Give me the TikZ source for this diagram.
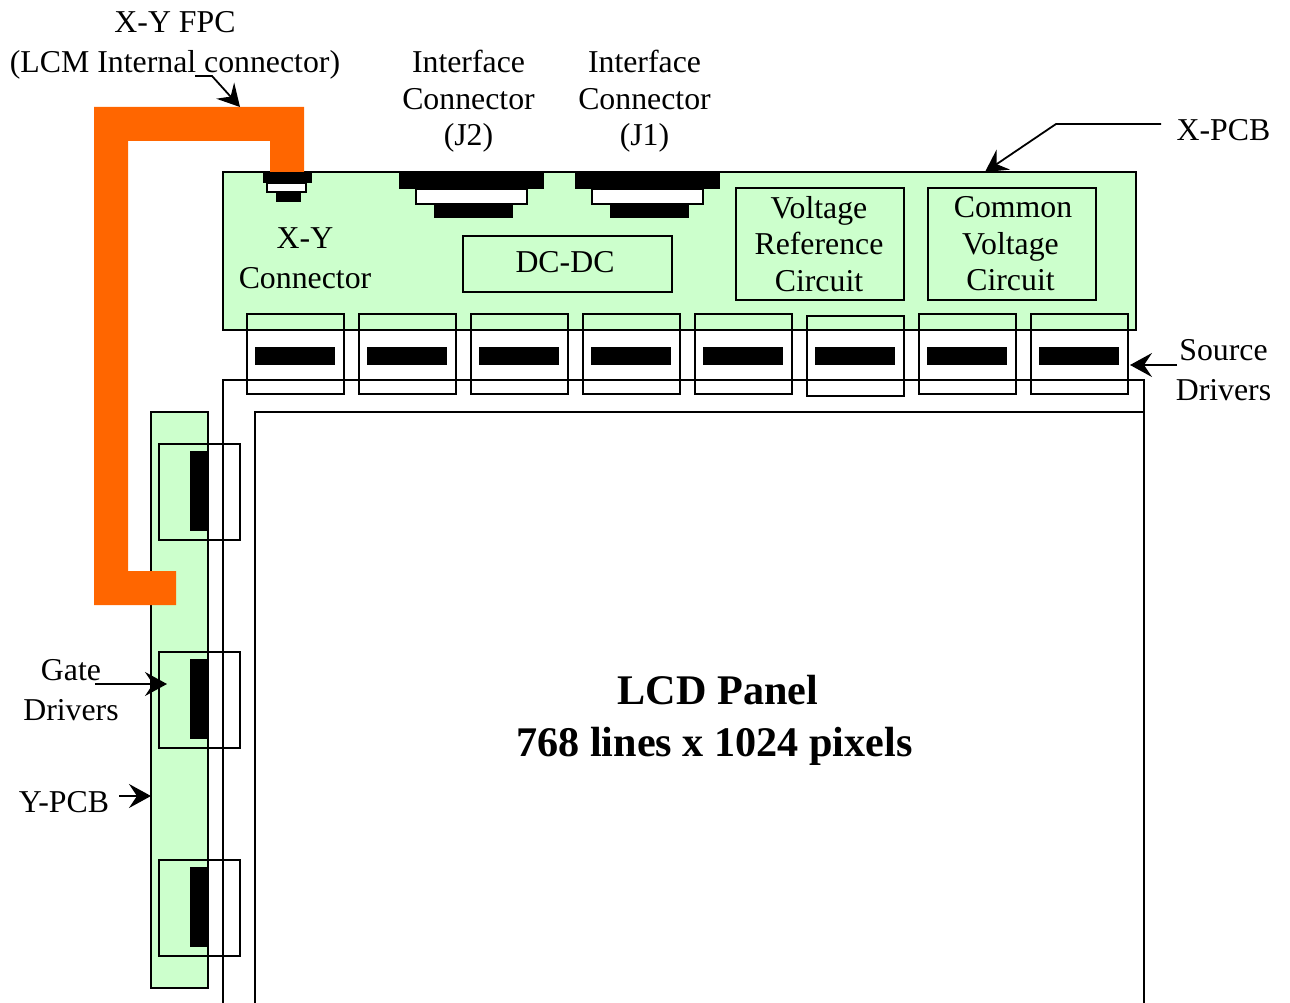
\documentclass[tikz,border=0pt]{standalone}
\usepackage{fontspec}
\setmainfont{Liberation Serif}
\usetikzlibrary{arrows.meta,fit}
\definecolor{pcbgreen}{HTML}{CCFFCC}
\definecolor{fpcorange}{HTML}{FF6600}
\tikzset{
  shp/.style={inner sep=0pt,outer sep=0pt,line width=1.8pt},
  pcb/.style={shp,draw=black,fill=pcbgreen},
  outline/.style={shp,draw=black},
  solid black/.style={inner sep=0pt,outer sep=0pt,fill=black},
  whitebar/.style={shp,draw=black,fill=white},
  lbl/.style={inner sep=0pt,outer sep=0pt,align=center,font=\fontsize{31.8}{36.5}\selectfont},
  lblwide/.style={inner sep=0pt,outer sep=0pt,align=center,font=\fontsize{31.8}{40}\selectfont},
  lblbold/.style={inner sep=0pt,outer sep=0pt,align=center,font=\fontsize{42.2}{52}\selectfont\bfseries},
  leader/.style={line width=1.8pt,line join=miter,-{Stealth[length=22pt,width=24pt,inset=8pt]}},
  fpc/.style={fill=fpcorange}
}
\newcommand{\rct}[6]{\coordinate (#1a) at (#3,#4);\coordinate (#1b) at (#5,#6);
  \node[fit=(#1a)(#1b),#2] (#1) {};}
\begin{document}
\begin{tikzpicture}[x=1pt,y=-1pt]
\useasboundingbox (0,0) rectangle (1290,1003);
% X-PCB
\rct{xpcb}{pcb}{223}{172}{1136}{330}
% LCD panel
\coordinate (lo1) at (223,1003);\coordinate (lo2) at (223,380);\coordinate (lo3) at (1144,380);\coordinate (lo4) at (1144,1003);
\draw[line width=1.8pt] (lo1) -- (lo2) -- (lo3) -- (lo4);
\coordinate (li1) at (255,1003);\coordinate (li2) at (255,412);\coordinate (li3) at (1144,412);
\draw[line width=1.8pt] (li1) -- (li2) -- (li3);
% Y-PCB
\rct{ypcb}{pcb}{151}{412}{208}{988}
% FPC
\fill[fpc] (94,107) -- (304,107) -- (304,173) -- (270,173) -- (270,141) -- (128,141) -- (128,571) -- (176,571) -- (176,605) -- (94,605) -- cycle;
% X-Y connector
\rct{xyc}{solid black}{263}{172}{312}{183}
\rct{xyb}{whitebar}{267}{183}{306}{192}
\rct{xyd}{solid black}{276}{192}{301}{202}
% J2
\rct{jta}{solid black}{399}{172}{544}{189}
\rct{jtb}{whitebar}{416}{189}{527}{204}
\rct{jtc}{solid black}{434}{204}{513}{218}
% J1
\rct{joa}{solid black}{575}{172}{720}{189}
\rct{job}{whitebar}{592}{189}{703}{204}
\rct{joc}{solid black}{610}{204}{689}{218}
% circuit boxes
\rct{dc}{outline}{463}{236}{672}{292}
\rct{vref}{outline}{736}{188}{904}{300}
\rct{vcom}{outline}{928}{188}{1096}{300}
% source drivers
\rct{sa}{outline}{247}{314}{344}{394}
\rct{sb}{outline}{359}{314}{456}{394}
\rct{sc}{outline}{471}{314}{568}{394}
\rct{sd}{outline}{583}{314}{680}{394}
\rct{se}{outline}{695}{314}{792}{394}
\rct{sf}{outline}{807}{316}{904}{396}
\rct{sg}{outline}{919}{314}{1016}{394}
\rct{sh}{outline}{1031}{314}{1128}{394}
\rct{ca}{solid black}{255}{347}{335}{365}
\rct{cb}{solid black}{367}{347}{447}{365}
\rct{cc}{solid black}{479}{347}{559}{365}
\rct{cd}{solid black}{591}{347}{671}{365}
\rct{ce}{solid black}{703}{347}{783}{365}
\rct{cf}{solid black}{815}{347}{895}{365}
\rct{cg}{solid black}{927}{347}{1007}{365}
\rct{ch}{solid black}{1039}{347}{1119}{365}
% gate drivers
\rct{ga}{outline}{159}{444}{240}{540}
\rct{gb}{outline}{159}{652}{240}{748}
\rct{gc}{outline}{159}{860}{240}{956}
\rct{da}{solid black}{190}{451}{208}{531}
\rct{db}{solid black}{190}{659}{208}{739}
\rct{dd}{solid black}{190}{867}{208}{947}
% labels
\node[lblwide] (tfpc) at (175,45) {X-Y FPC\\(LCM Internal connector)};
\node[lbl] (tj2) at (468.500,101.500) {Interface\\Connector\\(J2)};
\node[lbl] (tj1) at (644.500,101.500) {Interface\\Connector\\(J1)};
\node[lblwide] (txy) at (305,258) {X-Y\\Connector};
\node[lbl] (tdc) at (565,262) {DC-DC};
\node[lbl] (tvr) at (819,244) {Voltage\\Reference\\Circuit};
\node[lbl] (tvc) at (1010.500,244) {\hspace*{5pt}Common\\Voltage\\Circuit};
\node[lbl] (txp) at (1223.500,130) {X-PCB};
\node[lblwide] (tsd) at (1223.500,370.500) {Source\\Drivers};
\node[lblwide] (tgd) at (71,690) {Gate\\Drivers};
\node[lbl] (typ) at (64,802) {Y-PCB};
\node[lblbold] (tlcd) at (714.500,720) {\hspace*{7pt}LCD Panel\\768 lines x 1024 pixels};
% leaders
\coordinate (fa) at (195,76);\coordinate (fb) at (212,76);\coordinate (ft) at (240,107);
\draw[leader] (fa) -- (fb) -- (ft);
\coordinate (xa) at (1161,124);\coordinate (xb) at (1056,124);\coordinate (xt) at (985,172);
\draw[leader] (xa) -- (xb) -- (xt);
\coordinate (sqa) at (1177,365);\coordinate (sqt) at (1130,365);
\draw[leader] (sqa) -- (sqt);
\coordinate (gqa) at (95,684);\coordinate (gqt) at (167,684);
\draw[leader] (gqa) -- (gqt);
\coordinate (yqa) at (119,796);\coordinate (yqt) at (151,796);
\draw[leader] (yqa) -- (yqt);
\end{tikzpicture}
\end{document}
